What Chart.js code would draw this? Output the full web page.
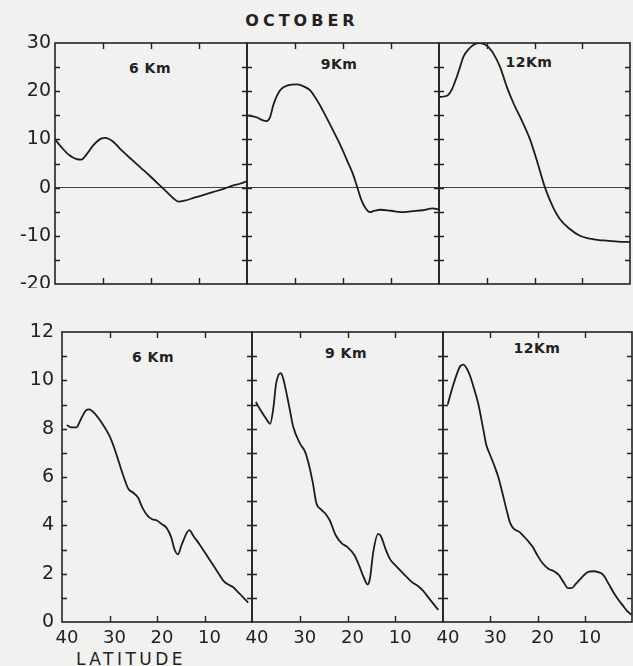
<!DOCTYPE html>
<html>
<head>
<meta charset="utf-8">
<script src="https://cdn.jsdelivr.net/npm/chart.js@4"></script>
<style>
  body { margin: 0; background: #f1f1ef; }
  #page { position: relative; width: 633px; height: 666px; overflow: hidden; font-family: "DejaVu Sans", sans-serif; color: #222; }
  .panel { position: absolute; }
  .lbl { position: absolute; transform: translate(-50%, -50%); line-height: 1; white-space: nowrap; }
  .km { font-size: 14px; font-weight: bold; letter-spacing: 0.5px; }
</style>
</head>
<body>
<div id="page">
  <div class="lbl" style="left:302px; top:21px; font-size:16px; font-weight:bold; letter-spacing:4px;">OCTOBER</div>
  <div class="lbl" style="left:131px; top:659px; font-size:17px; letter-spacing:3.5px;">LATITUDE</div>

  <div class="lbl km" style="left:150px; top:68px;">6 Km</div>
  <div class="lbl km" style="left:339px; top:64px;">9Km</div>
  <div class="lbl km" style="left:529px; top:62px;">12Km</div>
  <div class="lbl km" style="left:153px; top:357px;">6 Km</div>
  <div class="lbl km" style="left:346px; top:353px;">9 Km</div>
  <div class="lbl km" style="left:537px; top:348px;">12Km</div>
</div>

<script>
// latitude runs 40 -> 0 on every panel
const latTicks = [40, 30, 20, 10];

// upper row (values -20 .. 30)
const topLat6 = [40, 38.5, 37, 35.5, 34.5, 33.5, 32, 30.5, 29.5, 28, 26, 24, 22, 20, 18, 16, 15, 14.3, 13, 11, 9, 7, 5, 3, 1.5, 0];
const topVal6 = [10.0, 8.2, 6.7, 5.9, 5.8, 6.8, 8.8, 10.1, 10.3, 9.6, 7.6, 5.8, 4.0, 2.2, 0.3, -1.6, -2.5, -2.9, -2.7, -2.1, -1.5, -0.9, -0.3, 0.4, 0.8, 1.3];

const topLat9 = [40, 38, 36.8, 35.9, 35.2, 34.5, 33.1, 31.5, 29.6, 28, 26.9, 25.1, 24, 22.5, 20.6, 19, 18, 17.1, 16.2, 15.3, 14.4, 13.4, 12.3, 10, 8, 5.5, 3.3, 1.3, 0];
const topVal9 = [15.0, 14.6, 14.0, 13.8, 14.6, 17.2, 20.2, 21.2, 21.4, 20.9, 20.2, 17.6, 15.6, 12.7, 8.9, 5.3, 3.0, 0.3, -2.5, -4.3, -5.1, -4.8, -4.6, -4.8, -5.1, -4.9, -4.7, -4.3, -4.6];

const topLat12 = [40, 39, 38, 37.2, 36.3, 35.6, 34.9, 33.8, 32.8, 31.8, 30.4, 29.5, 28.6, 27.2, 25.8, 24.4, 22.6, 20.9, 19.2, 17.8, 16.1, 14.7, 12.6, 10.5, 8.4, 6.5, 4.9, 2.5, 0];
const topVal12 = [18.8, 18.9, 19.3, 20.6, 22.9, 25.0, 27.1, 28.7, 29.6, 30.0, 29.7, 29.0, 27.8, 25.0, 20.9, 17.5, 13.8, 9.9, 4.6, 0.0, -4.1, -6.5, -8.6, -10.0, -10.6, -10.9, -11.0, -11.2, -11.3];

// lower row (values 0 .. 12)
const botLat6 = [39, 38, 37, 36, 35, 34.3, 33, 31.5, 30, 29, 28, 27, 26, 25, 24, 23, 22, 21, 20, 19, 18, 17, 16.3, 15.6, 14.8, 13.2, 12.3, 11, 9, 7, 6, 5, 4, 3, 2, 0.8];
const botVal6 = [8.15, 8.05, 8.05, 8.4, 8.75, 8.8, 8.6, 8.2, 7.7, 7.2, 6.6, 6.0, 5.5, 5.35, 5.15, 4.7, 4.4, 4.25, 4.2, 4.05, 3.9, 3.5, 3.0, 2.8, 3.2, 3.8, 3.55, 3.2, 2.6, 2.0, 1.7, 1.55, 1.45, 1.25, 1.05, 0.8];

const botLat9 = [39.2, 38, 37, 36.2, 35.5, 35, 34.5, 34, 33.5, 32.7, 32, 31.4, 30, 28.9, 28.2, 27.3, 26.5, 25.5, 24.5, 23.7, 22.5, 21.2, 20, 18.5, 17.5, 16.5, 15.8, 15.3, 14.6, 13.6, 13, 12, 11.1, 10, 8.3, 6.5, 5, 4.2, 3, 2, 1];
const botVal9 = [9.1, 8.7, 8.4, 8.2, 8.9, 9.8, 10.2, 10.3, 10.1, 9.4, 8.7, 8.1, 7.4, 7.05, 6.6, 5.8, 4.9, 4.65, 4.45, 4.2, 3.6, 3.25, 3.1, 2.75, 2.3, 1.8, 1.55, 1.8, 2.9, 3.65, 3.55, 3.0, 2.6, 2.35, 2.0, 1.65, 1.45, 1.3, 1.0, 0.75, 0.5];

const botLat12 = [39, 38, 37, 36.3, 35.7, 35, 34.3, 33.5, 32.5, 31.5, 30.8, 30, 29, 28.3, 27.5, 26.5, 25.8, 25, 24, 23.4, 22, 21, 20, 19, 17.7, 16.5, 15.5, 14.5, 13.5, 12.8, 11.8, 10.6, 9.5, 8.2, 7, 6.1, 5, 4, 3, 2, 1, 0.1];
const botVal12 = [9.0, 9.7, 10.3, 10.6, 10.65, 10.5, 10.2, 9.7, 9.0, 8.0, 7.3, 6.9, 6.4, 6.0, 5.4, 4.6, 4.1, 3.85, 3.75, 3.65, 3.35, 3.1, 2.75, 2.45, 2.2, 2.1, 1.95, 1.65, 1.4, 1.4, 1.6, 1.85, 2.05, 2.1, 2.05, 1.95, 1.6, 1.25, 0.95, 0.7, 0.45, 0.3];

const topYTicks = [-20, -10, 0, 10, 20, 30];
const botYTicks = [0, 2, 4, 6, 8, 10, 12];

const ink = '#222';

// short inward tick marks and the panel frame
const innerTicks = {
    id: 'innerTicks',
    afterDraw(chart, args, o) {
        const { ctx, chartArea: a, scales: { x, y } } = chart;
        ctx.save();
        ctx.strokeStyle = ink;
        ctx.lineWidth = 1.6;
        ctx.strokeRect(a.left, a.top, a.right - a.left, a.bottom - a.top);
        ctx.lineWidth = 1.4;
        ctx.beginPath();
        latTicks.forEach(v => {
            if (v <= x.min || v >= x.max) return;
            const px = Math.round(x.getPixelForValue(v)) + 0.5;
            ctx.moveTo(px, a.top); ctx.lineTo(px, a.top + 6);
            ctx.moveTo(px, a.bottom); ctx.lineTo(px, a.bottom - 6);
        });
        for (let v = y.min + o.minor; v < y.max - 0.001; v += o.minor) {
            const py = Math.round(y.getPixelForValue(v)) + 0.5;
            ctx.moveTo(a.left, py); ctx.lineTo(a.left + 5, py);
            ctx.moveTo(a.right, py); ctx.lineTo(a.right - 5, py);
        }
        ctx.stroke();
        ctx.restore();
    }
};

function makePanel(box, lat, val, cfg) {
    const axW = cfg.showY ? box.x : 16;
    const padT = 14, padR = 5;
    const axH = cfg.showX ? 40 : 4;

    const div = document.createElement('div');
    div.className = 'panel';
    div.style.left = (box.x - axW) + 'px';
    div.style.top = (box.y - padT) + 'px';
    div.style.width = (box.w + axW + padR) + 'px';
    div.style.height = (box.h + padT + axH) + 'px';
    const canvas = document.createElement('canvas');
    div.appendChild(canvas);
    document.getElementById('page').appendChild(div);

    new Chart(canvas, {
        type: 'line',
        data: {
            datasets: [{
                data: lat.map((l, i) => ({ x: l, y: val[i] })),
                borderColor: '#1c1c1c',
                borderWidth: 1.8,
                pointRadius: 0,
                cubicInterpolationMode: 'monotone',
                fill: false
            }]
        },
        options: {
            responsive: true,
            maintainAspectRatio: false,
            animation: false,
            layout: { padding: { top: padT, right: padR, left: 0, bottom: 0 } },
            plugins: {
                legend: { display: false },
                tooltip: { enabled: false },
                innerTicks: { minor: cfg.minor }
            },
            scales: {
                x: {
                    type: 'linear',
                    min: 0,
                    max: 40,
                    reverse: true,
                    border: { display: false },
                    grid: { display: false, drawTicks: false },
                    ticks: {
                        display: cfg.showX,
                        stepSize: 10,
                        padding: 6,
                        labelOffset: 5,
                        maxRotation: 0,
                        color: ink,
                        font: { family: 'DejaVu Sans', size: 18 },
                        callback: v => latTicks.includes(v) ? v : ''
                    },
                    afterFit: s => { s.height = axH; s.paddingLeft = 0; s.paddingRight = 0; }
                },
                y: {
                    min: cfg.yMin,
                    max: cfg.yMax,
                    border: { display: false },
                    grid: {
                        display: true,
                        drawTicks: false,
                        lineWidth: 1,
                        color: c => (cfg.zeroLine && c.tick && c.tick.value === 0) ? '#444' : 'rgba(0,0,0,0)'
                    },
                    afterBuildTicks: s => { s.ticks = cfg.yTicks.map(v => ({ value: v })); },
                    ticks: {
                        display: cfg.showY,
                        padding: cfg.yPad,
                        color: ink,
                        font: { family: 'DejaVu Sans', size: 19 }
                    },
                    afterFit: s => { s.width = axW; s.paddingTop = 0; s.paddingBottom = 0; }
                }
            }
        },
        plugins: [innerTicks]
    });
}

const topCfg = { yMin: -20, yMax: 30, yTicks: topYTicks, minor: 5, zeroLine: true, showX: false, yPad: 4 };
const botCfg = { yMin: 0, yMax: 12, yTicks: botYTicks, minor: 1, zeroLine: false, showX: true, yPad: 8 };

makePanel({ x: 55, y: 43, w: 192, h: 241 }, topLat6, topVal6, { ...topCfg, showY: true });
makePanel({ x: 247, y: 43, w: 192, h: 241 }, topLat9, topVal9, { ...topCfg, showY: false });
makePanel({ x: 439, y: 43, w: 191, h: 241 }, topLat12, topVal12, { ...topCfg, showY: false });

makePanel({ x: 62, y: 332, w: 190, h: 290 }, botLat6, botVal6, { ...botCfg, showY: true });
makePanel({ x: 252, y: 332, w: 191, h: 290 }, botLat9, botVal9, { ...botCfg, showY: false });
makePanel({ x: 443, y: 332, w: 189, h: 290 }, botLat12, botVal12, { ...botCfg, showY: false });
</script>
</body>
</html>
